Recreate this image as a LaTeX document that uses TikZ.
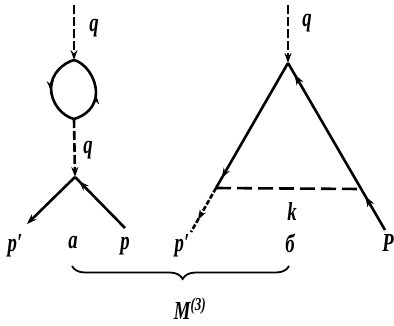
\documentclass[tikz,border=0pt]{standalone}
\usepackage{fontspec}
\usepackage{graphicx}
\setmainfont{Liberation Serif}
\newcommand{\nrw}[1]{\scalebox{0.72}[1]{#1}}
\usetikzlibrary{arrows.meta,decorations.markings,decorations.pathreplacing}
\begin{document}
\begin{tikzpicture}[x=1pt,y=-1pt,
  line/.style={line width=2.6pt},
  dline/.style={line width=2.6pt,dash pattern=on 9pt off 3pt},
  hline/.style={line width=2.6pt,dash pattern=on 15pt off 6pt},
  tip/.style={-{Stealth[length=10pt,width=7pt]}},
  midarrow/.style={postaction={decorate},decoration={markings,mark=at position #1 with {\arrow{Stealth[length=10pt,width=7pt]}}}},
  lab/.style={font=\fontsize{26}{30}\selectfont\bfseries\itshape,inner sep=0pt}]
\useasboundingbox (0,0) rectangle (394,325);
% left diagram
\coordinate (t1) at (74,5);
\coordinate (lt) at (74,60);
\coordinate (ll) at (51,88);
\coordinate (lb) at (74,119);
\coordinate (lr) at (96,93);
\coordinate (v) at (75,177);
\coordinate (pl) at (27,224);
\coordinate (pr) at (125,228);
\draw[dline,tip] (t1) -- (lt);
\draw[line,midarrow=0.52] (lt) .. controls (63,63) and (51,74) .. (ll) .. controls (51,103) and (62,116) .. (lb);
\draw[line,midarrow=0.45] (lb) .. controls (85,116) and (96,107) .. (lr) .. controls (96,77) and (85,63) .. (lt);
\draw[dline,tip] (lb) -- (v);
\draw[line,tip] (v) -- (pl);
\draw[line,midarrow=0.92] (pr) -- (v);
% right diagram
\coordinate (t2) at (288,5);
\coordinate (A) at (288,63);
\coordinate (L1) at (216,188);
\coordinate (L2) at (191,232);
\coordinate (R1) at (361,189);
\coordinate (R) at (385,230);
\draw[dline,tip] (t2) -- (A);
\draw[line,midarrow=0.92] (A) -- (L1);
\draw[line,dash pattern=on 5pt off 2pt,midarrow=0.72] (L1) -- (L2);
\draw[line,midarrow=0.2,midarrow=0.93] (R) -- (A);
\draw[hline] (L1) -- (R1);
% labels
\node[lab] (q1) at (94,28) {\nrw{q}};
\node[lab] (q2) at (88,150) {\nrw{q}};
\node[lab] (q3) at (307,23) {\nrw{q}};
\node[lab] (pa) at (15,246) {\nrw{p′}};
\node[lab] (a) at (73,243) {\nrw{а}};
\node[lab] (pb) at (125,246) {\nrw{p}};
\node[lab] (pc) at (182,246) {\nrw{p′}};
\node[lab] (b) at (290,243) {\nrw{б}};
\node[lab] (pd) at (388,243) {\nrw{P}};
\node[lab] (k) at (292,211) {\nrw{k}};
\coordinate (br1) at (289,266);
\coordinate (br2) at (72,266);
\draw[line width=1.8pt,decorate,decoration={brace,amplitude=13pt,aspect=0.49}] (br1) -- (br2);
\node[lab] (M) at (190,309) {\nrw{M\textsuperscript{(3)}}};
\end{tikzpicture}
\end{document}
